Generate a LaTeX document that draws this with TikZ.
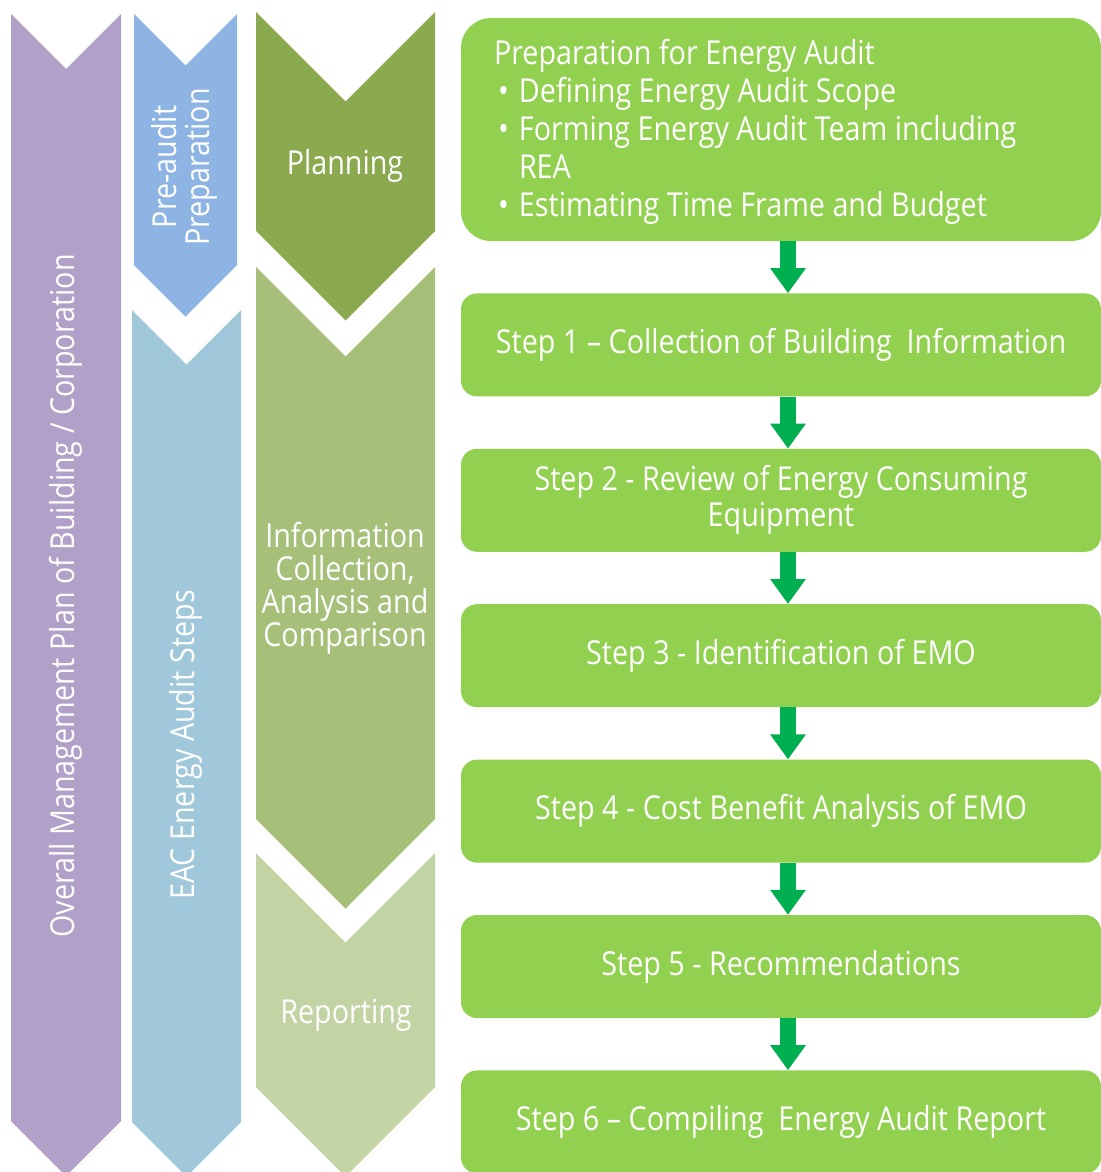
\documentclass[tikz,border=0pt]{standalone}
\usepackage{fontspec}
\setmainfont[FakeStretch=0.87]{Open Sans}
\usetikzlibrary{arrows.meta,positioning}

\definecolor{cpurple}{HTML}{B1A0C7}
\definecolor{cblue}{HTML}{8EB4E3}
\definecolor{cteal}{HTML}{A0C8DA}
\definecolor{colive}{HTML}{8BA94F}
\definecolor{cinfo}{HTML}{A6C07A}
\definecolor{crep}{HTML}{C2D4A4}
\definecolor{boxgreen}{HTML}{92D050}
\definecolor{arrowgreen}{HTML}{00B050}

\newcommand{\bul}{\hspace*{4pt}\makebox[21pt][l]{\textbullet}}

\tikzset{
  chevtext/.style={text=white, font=\fontsize{33}{33}\selectfont, align=center, inner sep=0pt},
  stepbox/.style={fill=boxgreen, rounded corners=16pt, minimum width=640pt, minimum height=103pt,
    text=white, font=\fontsize{33}{36}\selectfont, align=center, inner sep=0pt},
  flow/.style={draw=arrowgreen, line width=16pt, -{Triangle[width=34pt,length=25pt]}}
}

\begin{document}
\begin{tikzpicture}[x=1pt, y=-1pt, node distance=52pt]
\useasboundingbox (0,0) rectangle (1100,1172);
% chevrons: left/right/top/bottom/colour
\foreach \xl/\xr/\yt/\yb/\col in {11/121/14/1121/cpurple, 134/237/14/265/cblue, 132/241/310/1122/cteal,
    256/435/12/231/colive, 256/435/267/819/cinfo, 256/435/853/1087/crep} {
  \pgfmathsetmacro\xm{(\xl+\xr)/2}
  \pgfmathsetmacro\dd{(\xr-\xl)/2}
  \fill[\col] (\xl,\yt) -- (\xm,\yt+\dd) -- (\xr,\yt) -- (\xr,\yb) -- (\xm,\yb+\dd) -- (\xl,\yb) -- cycle;
}
\node[chevtext, rotate=90] (overall) at (66,596) {Overall Management Plan of Building / Corporation};
\node[chevtext, rotate=90] (preaudit) at (184,167) {Pre-audit\\Preparation};
\node[chevtext, rotate=90] (eac) at (186,745) {EAC Energy Audit Steps};
\node[chevtext] (plan) at (345,166) {Planning};
\node[chevtext] (info) at (345,588) {Information\\Collection,\\Analysis and\\Comparison};
\node[chevtext] (rep) at (346,1015) {Reporting};

% step boxes
\node[stepbox, rounded corners=30pt, minimum height=223pt] (b0) at (781,129.5) {};
\node[text=white, font=\fontsize{33}{38}\selectfont, align=left, inner sep=0pt, anchor=north west] (prep)
  at ([xshift=33pt,yshift=-21pt]b0.north west)
  {Preparation for Energy Audit\\
   \bul Defining Energy Audit Scope\\
   \bul Forming Energy Audit Team including\\
   \hspace*{25pt}REA\\
   \bul Estimating Time Frame and Budget};
\node[stepbox, below=of b0] (b1) {Step 1 -- Collection of Building\ \ Information};
\node[stepbox, below=of b1] (b2) {Step 2 - Review of Energy Consuming\\Equipment};
\node[stepbox, below=of b2] (b3) {Step 3 - Identification of EMO};
\node[stepbox, below=of b3] (b4) {Step 4 - Cost Benefit Analysis of EMO};
\node[stepbox, below=of b4] (b5) {Step 5 - Recommendations};
\node[stepbox, below=of b5] (b6) {Step 6 -- Compiling\ \ Energy Audit Report};
\foreach \a/\b in {b0/b1, b1/b2, b2/b3, b3/b4, b4/b5, b5/b6}
  \draw[flow] ([xshift=7pt]\a.south) -- ([xshift=7pt]\b.north);
\end{tikzpicture}
\end{document}
